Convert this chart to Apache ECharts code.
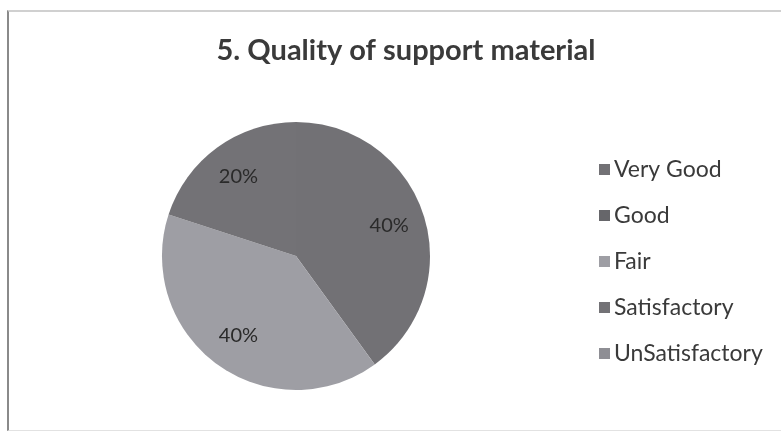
<!DOCTYPE html>
<html>
<head>
<meta charset="utf-8">
<script src="https://cdn.jsdelivr.net/npm/echarts@6/dist/echarts.min.js"></script>
<style>
html,body{margin:0;padding:0;background:#fff;}
#frame{position:absolute;left:7px;top:10px;width:790px;height:421px;border-left:2px solid #8a8a8a;border-top:2px solid #d0d0d0;border-bottom:1px solid #e2e2e2;box-sizing:border-box;}
#chart{position:absolute;left:0;top:0;width:781px;height:438px;}
</style>
</head>
<body>
<div id="frame"></div>
<div id="chart"></div>
<script>
const titleText = '5. Quality of support material';
const categories = ['Very Good', 'Good', 'Fair', 'Satisfactory', 'UnSatisfactory'];
const values = [40, 0, 40, 20, 0];
const colors = ['#727175', '#66666a', '#9e9ea4', '#737276', '#8e8e94'];

const chart = echarts.init(document.getElementById('chart'), null, {renderer: 'canvas'});
const data = categories.map((c, i) => ({name: c, value: values[i]}));
const font = 'Lato, "Open Sans", sans-serif';
chart.setOption({
  animation: false,
  color: colors,
  title: {
    text: titleText,
    left: 401, top: 31, textAlign: 'center',
    textStyle: {fontFamily: font, fontSize: 29, fontWeight: 'bold', color: '#3a3a3a'}
  },
  legend: {
    orient: 'vertical',
    left: 594, top: 152,
    icon: 'rect', itemWidth: 11, itemHeight: 11, itemGap: 21,
    data: categories,
    textStyle: {fontFamily: font, fontSize: 23, color: '#3a3a3a', lineHeight: 25, padding: [0,0,0,-1]}
  },
  series: [
    {
      type: 'pie', center: [296, 256], radius: [0, 134],
      startAngle: 90, clockwise: true, silent: true,
      label: {show: false}, labelLine: {show: false},
      itemStyle: {borderWidth: 0},
      data: data
    },
    {
      type: 'pie', center: [296, 256], radius: [56, 134],
      startAngle: 90, clockwise: true, silent: true,
      itemStyle: {color: 'rgba(0,0,0,0)', borderWidth: 0},
      label: {
        show: true, position: 'inside',
        formatter: p => p.value ? p.value + '%' : '',
        fontFamily: font, fontSize: 20, color: '#2a2a2a'
      },
      labelLine: {show: false},
      data: data
    }
  ]
});
</script>
</body>
</html>
